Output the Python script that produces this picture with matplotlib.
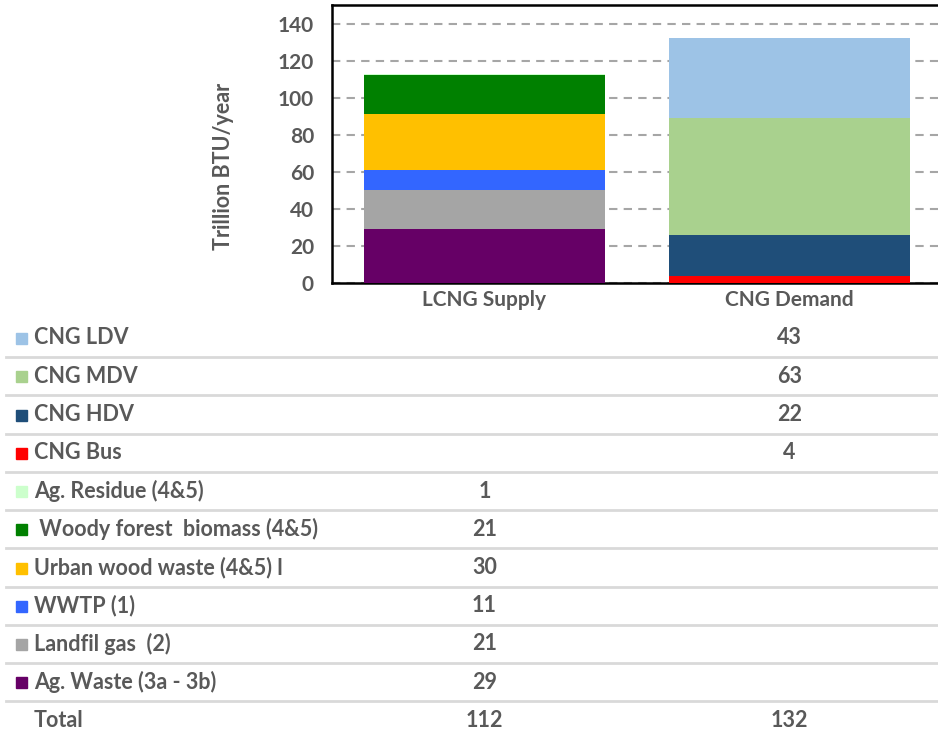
import matplotlib
matplotlib.use("Agg")
import matplotlib.pyplot as plt
import matplotlib.transforms as mtransforms
import numpy as np

# --- data (Trillion BTU/year) ---
bar_names = ["LCNG Supply", "CNG Demand"]

supply_labels = ["Ag. Waste (3a - 3b)", "Landfil gas  (2)", "WWTP (1)",
                 "Urban wood waste (4&5) l", " Woody forest  biomass (4&5)",
                 "Ag. Residue (4&5)"]
supply_values = [29, 21, 11, 30, 21, 1]
supply_colors = ["#660066", "#A5A5A5", "#3366FF", "#FFC000", "#008000", "#CCFFCC"]

demand_labels = ["CNG Bus", "CNG HDV", "CNG MDV", "CNG LDV"]
demand_values = [4, 22, 63, 43]
demand_colors = ["#FF0000", "#1F4E79", "#A9D18E", "#9DC3E6"]

totals = [112, 132]
y_ticks = [0, 20, 40, 60, 80, 100, 120, 140]

TXT = "#595959"
FONT = ["Lato", "DejaVu Sans"]
plt.rcParams["font.family"] = FONT
plt.rcParams["font.weight"] = "bold"

W, H = 938, 736
fig = plt.figure(figsize=(W / 100, H / 100), dpi=100)

# bar chart area
x0, x1, ytop, ybot = 332, 942, 5, 283
ax = fig.add_axes([x0 / W, (H - ybot) / H, (x1 - x0) / W, (ybot - ytop) / H])
width = 0.79

bottom = 0
for v, c in zip(supply_values, supply_colors):
    ax.bar(0, v, width, bottom=bottom, color=c, zorder=3)
    bottom += v
bottom = 0
for v, c in zip(demand_values, demand_colors):
    ax.bar(1, v, width, bottom=bottom, color=c, zorder=3)
    bottom += v

ax.set_xlim(-0.5, 1.5)
ax.set_ylim(0, 150)
ax.set_yticks(y_ticks)
ax.set_xticks([0, 1])
ax.set_xticklabels(bar_names)
ax.tick_params(length=0, colors=TXT, labelsize=15)
ax.tick_params(axis="y", pad=13)
ax.tick_params(axis="x", pad=5)
for lab in ax.get_xticklabels() + ax.get_yticklabels():
    lab.set_fontweight("bold")
ax.yaxis.grid(True, linestyle=(0, (4, 3)), color="#A6A6A6", linewidth=1.5, zorder=0)
for s in ["left", "bottom", "top"]:
    ax.spines[s].set_color("black")
    ax.spines[s].set_linewidth(1.8)
ax.spines["right"].set_visible(False)
ax.set_ylabel("Trillion BTU/year", fontsize=15.5, color=TXT, fontweight="bold")
ax.yaxis.set_label_coords((234 - x0) / (x1 - x0), 0.42)

# data table under the bars
rows = []
for lbl, v, c in zip(demand_labels[::-1], demand_values[::-1], demand_colors[::-1]):
    rows.append((lbl, c, None, v))
for lbl, v, c in zip(supply_labels[::-1], supply_values[::-1], supply_colors[::-1]):
    rows.append((lbl, c, v, None))
rows.append(("Total", None, totals[0], totals[1]))

col_trans = mtransforms.blended_transform_factory(ax.transData, fig.transFigure)
row0, row_h = 338, 38.25
fs = 15.5
for i, (lbl, c, v_sup, v_dem) in enumerate(rows):
    yc = row0 + i * row_h
    yf = (H - yc) / H
    if c is not None:
        fig.patches.append(plt.Rectangle((16 / W, (H - yc - 6) / H), 11 / W, 11 / H,
                                         transform=fig.transFigure, color=c))
    fig.text(34 / W, yf, lbl, fontsize=fs, color=TXT, fontweight="bold",
             va="center", ha="left")
    if v_sup is not None:
        fig.text(0, yf, str(v_sup), transform=col_trans, fontsize=fs, color=TXT,
                 fontweight="bold", va="center", ha="center")
    if v_dem is not None:
        fig.text(1, yf, str(v_dem), transform=col_trans, fontsize=fs, color=TXT,
                 fontweight="bold", va="center", ha="center")
    if i < len(rows) - 1:
        yl = (H - (yc + row_h / 2)) / H
        fig.add_artist(plt.Line2D([6 / W, 1.0], [yl, yl], transform=fig.transFigure,
                                  color="#D9D9D9", linewidth=2))

fig.savefig("out.png", dpi=100)
